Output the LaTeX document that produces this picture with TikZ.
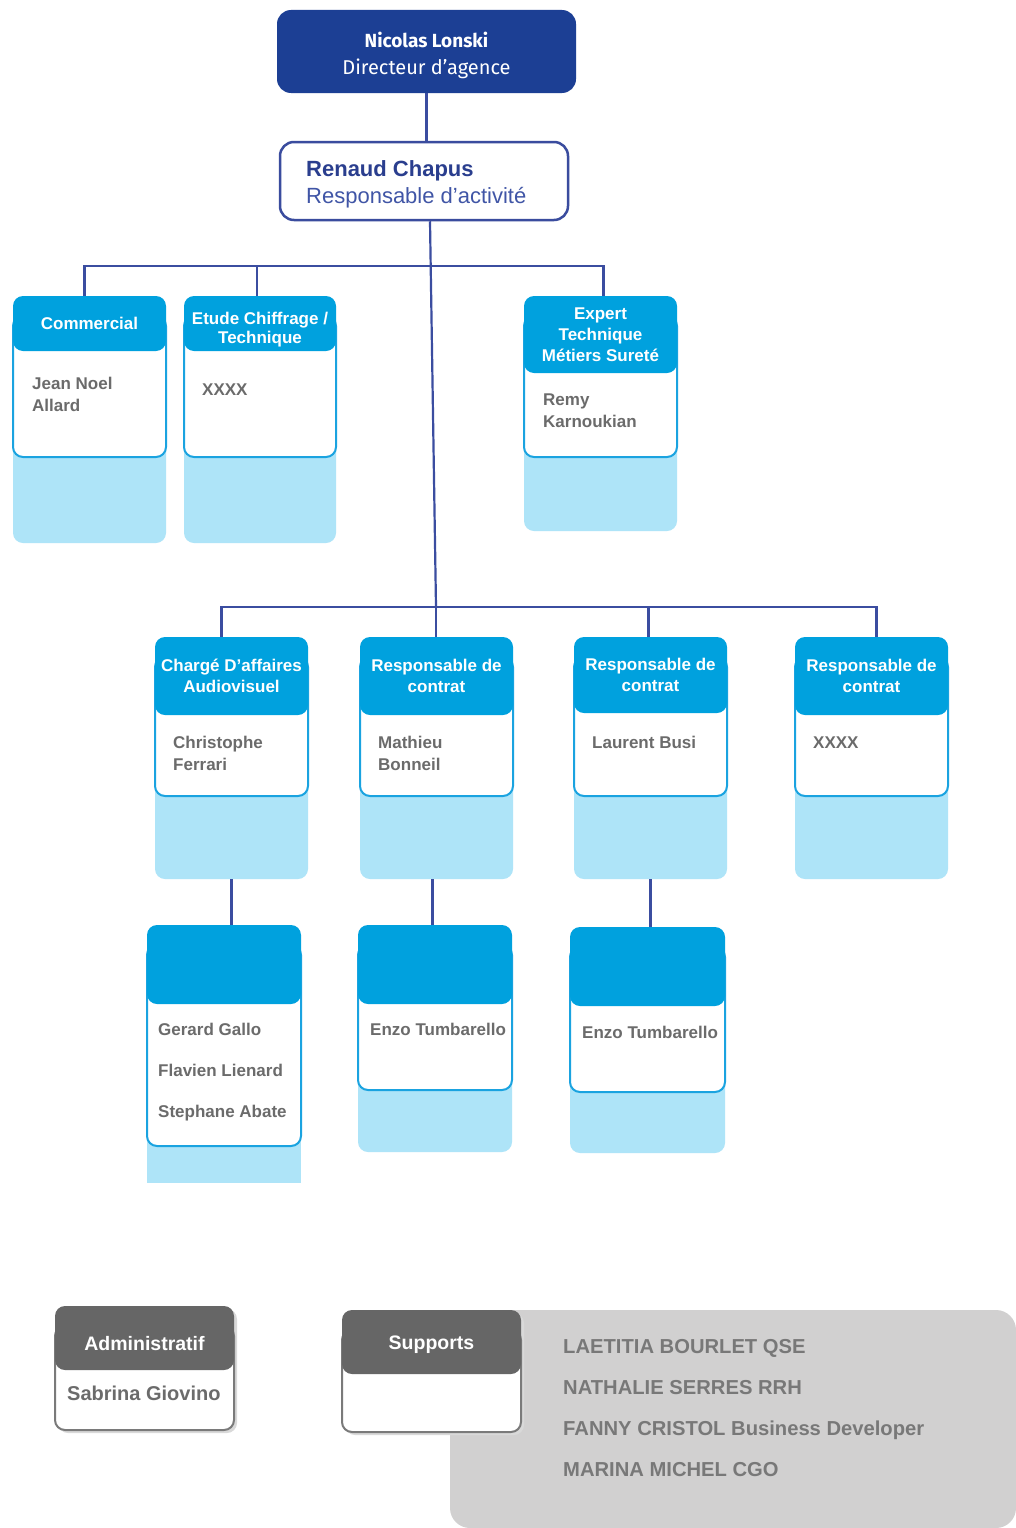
\documentclass[tikz,border=0pt]{standalone}
\usepackage{fontspec}
\setmainfont{Liberation Sans}
\newfontfamily\firafont{Fira Sans}
\definecolor{darkblue}{HTML}{1C3F94}
\definecolor{connc}{HTML}{3B4DA0}
\definecolor{rcborder}{HTML}{3A4C9E}
\definecolor{rcname}{HTML}{2A3E8E}
\definecolor{rcrole}{HTML}{4055A6}
\definecolor{hdrblue}{HTML}{00A1DE}
\definecolor{cardline}{HTML}{1AA3E0}
\definecolor{lightb}{HTML}{AEE4F8}
\definecolor{bodygray}{HTML}{6B6B6B}
\definecolor{grayhdr}{HTML}{666666}
\definecolor{grayline}{HTML}{7A7A7A}
\definecolor{panelc}{HTML}{D1D0D0}
\definecolor{listgray}{HTML}{787878}
\newcommand\lowertext[2]{\raisebox{-#1}[\height][\depth]{#2}}
\tikzset{
  conn/.style={draw=connc, line width=2.2pt},
  lightbox/.style={fill=lightb, rounded corners=10pt, inner sep=0pt, outer sep=0pt},
  hdrbox/.style={fill=hdrblue, rounded corners=10pt, inner sep=0pt, outer sep=0pt, text=white, align=center, font=\bfseries\fontsize{17}{21}\selectfont},
  cardbody/.style={draw=cardline, line width=2pt, fill=white, rounded corners=10pt},
  bodytxt/.style={font=\bfseries\fontsize{17}{22}\selectfont, text=bodygray, align=left, anchor=north west, inner sep=0pt},
  grayhdrbox/.style={fill=grayhdr, rounded corners=10pt, inner sep=0pt, outer sep=0pt, text=white, align=center, font=\bfseries\fontsize{19.5}{23}\selectfont},
  graybody/.style={draw=grayline, line width=2pt, fill=white, rounded corners=10pt},
  graytxt/.style={font=\bfseries\fontsize{20}{23}\selectfont, text=bodygray, anchor=north west, inner sep=0pt},
  listtxt/.style={font=\bfseries\fontsize{20.2}{41}\selectfont, text=listgray, align=left, anchor=north west, inner sep=0pt}
}
% #1 light box extra style, #2 name, #3 x1, #4 x2, #5 ytop, #6 yhead, #7 ywhite, #8 ylight, #9 header text
\newcommand\bluecard[9][]{%
  \pgfmathsetmacro\cw{#4-#3}%
  \pgfmathsetmacro\cx{(#3+#4)/2}%
  \pgfmathsetmacro\lh{#8-#5-20}%
  \pgfmathsetmacro\ly{(#5+20+#8)/2}%
  \node[lightbox, #1, minimum width=\cw pt, minimum height=\lh pt] (#2bg) at (\cx,\ly) {};
  \draw[cardbody] (#3,#5+20) rectangle (#4,#7);
  \pgfmathsetmacro\hh{#6-#5}%
  \pgfmathsetmacro\hy{(#5+#6)/2}%
  \node[hdrbox, minimum width=\cw pt, minimum height=\hh pt] (#2) at (\cx,\hy) {#9};
}
% #1 name, #2 x1, #3 x2, #4 ytop, #5 yhead, #6 ybottom, #7 header text
\newcommand\graycard[7]{%
  \fill[gray!30, rounded corners=10pt] (#2+3,#4+3) rectangle (#3+3,#6+3);
  \draw[graybody] (#2,#4+20) rectangle (#3,#6);
  \pgfmathsetmacro\cw{#3-#2}%
  \pgfmathsetmacro\cx{(#2+#3)/2}%
  \pgfmathsetmacro\hh{#5-#4}%
  \pgfmathsetmacro\hy{(#4+#5)/2}%
  \node[grayhdrbox, minimum width=\cw pt, minimum height=\hh pt] (#1) at (\cx,\hy) {#7};
}
\begin{document}
\begin{tikzpicture}[x=1pt,y=-1pt]
\useasboundingbox (0,0) rectangle (1016,1528);
\fill[white] (0,0) rectangle (1016,1528);

% top boxes
\node[fill=darkblue, rounded corners=14pt, minimum width=299pt, minimum height=83pt, inner sep=0pt,
      text=white, align=center, font=\firafont\fontsize{20}{27}\selectfont] (nl) at (426.5,51.5)
      {\lowertext{4pt}{\begin{tabular}{@{}c@{}}{\fontsize{19}{27}\selectfont\bfseries Nicolas Lonski}\\[0pt]Directeur d’agence\end{tabular}}};
\node[draw=rcborder, line width=2.5pt, fill=white, rounded corners=14pt, minimum width=288pt, minimum height=78pt,
      inner sep=0pt] (rc) at (424,181) {};
\node[anchor=north west, inner sep=0pt, align=left, font=\fontsize{22}{27}\selectfont] (rctxt) at (306,160)
      {\textcolor{rcname}{\bfseries Renaud Chapus}\\\textcolor{rcrole}{Responsable d'activité}};

% first row of cards
\bluecard{com}{13}{166}{296}{351}{457}{543}{Commercial}
\bluecard{etu}{184}{336}{296}{351}{457}{543}{\lowertext{6pt}{\begin{tabular}{@{}c@{}}Etude Chiffrage /\\[-2pt]Technique\end{tabular}}}
\bluecard{exp}{524}{677}{296}{373}{457}{531}{Expert\\Technique\\Métiers Sureté}
\node[bodytxt] (comb) at (32,377) {Jean Noel\\Allard};
\node[bodytxt] (etub) at (202,384) {XXXX};
\node[bodytxt] (expb) at (543,394) {Remy\\Karnoukian};

% second row of cards
\bluecard{cha}{155}{308}{637}{715}{796}{879}{Chargé D'affaires\\Audiovisuel}
\bluecard{ra}{360}{513}{637}{715}{796}{879}{Responsable de\\contrat}
\bluecard{rb}{574}{727}{637}{713}{796}{879}{Responsable de\\contrat}
\bluecard{rd}{795}{948}{637}{715}{796}{879}{Responsable de\\contrat}
\node[bodytxt] (chab) at (173,736) {Christophe\\Ferrari};
\node[bodytxt] (rab) at (378,736) {Mathieu\\Bonneil};
\node[bodytxt] (rbb) at (592,736) {Laurent Busi};
\node[bodytxt] (rdb) at (813,737) {XXXX};

% third row of cards
\bluecard[sharp corners]{ta}{147}{301}{925}{1004}{1146}{1183}{}
\bluecard{tb}{358}{512}{925}{1004}{1090}{1152}{}
\bluecard{tc}{570}{725}{927}{1006}{1092}{1153}{}
\node[bodytxt, font=\bfseries\fontsize{17}{41}\selectfont] (tab) at (158,1023) {Gerard Gallo\\Flavien Lienard\\Stephane Abate};
\node[bodytxt] (tbb) at (370,1023) {Enzo Tumbarello};
\node[bodytxt] (tcb) at (582,1026) {Enzo Tumbarello};

% connectors
\coordinate (bar1) at (0,266);
\coordinate (hub2) at (436,607);
\draw[conn] (nl.south) -- (nl.south |- rc.north);
\draw[conn] ([xshift=-5pt]com.north) -- ([xshift=-5pt]com.north |- bar1) -- ([xshift=3pt]exp.north |- bar1) -- ([xshift=3pt]exp.north);
\draw[conn] ([xshift=-3pt]etu.north) -- ([xshift=-3pt]etu.north |- bar1);
\draw[conn] ([xshift=6pt]rc.south) -- (hub2);
\draw[conn] ([xshift=-10pt]cha.north) -- ([xshift=-10pt]cha.north |- hub2) -- ([xshift=5pt]rd.north |- hub2) -- ([xshift=5pt]rd.north);
\draw[conn] (hub2) -- (hub2 |- ra.north);
\draw[conn] ([xshift=-2pt]rb.north) -- ([xshift=-2pt]rb.north |- hub2);
\draw[conn] (chabg.south) -- (chabg.south |- ta.north);
\draw[conn] ([xshift=-4pt]rabg.south) -- ([xshift=-4pt]rabg.south |- tb.north);
\draw[conn] (rbbg.south) -- (rbbg.south |- tc.north);

% bottom part
\fill[panelc, rounded corners=20pt] (450,1310) rectangle (1016,1528);
\graycard{adm}{55}{234}{1306}{1370}{1430}{\lowertext{6pt}{Administratif}}
\graycard{sup}{342}{521}{1310}{1374}{1432}{\lowertext{3pt}{Supports}}
\node[graytxt] (admb) at (67,1386) {Sabrina Giovino};
\node[listtxt] (list) at (563,1339) {LAETITIA BOURLET QSE\\NATHALIE SERRES RRH\\FANNY CRISTOL Business Developer\\MARINA MICHEL CGO};
\end{tikzpicture}
\end{document}
